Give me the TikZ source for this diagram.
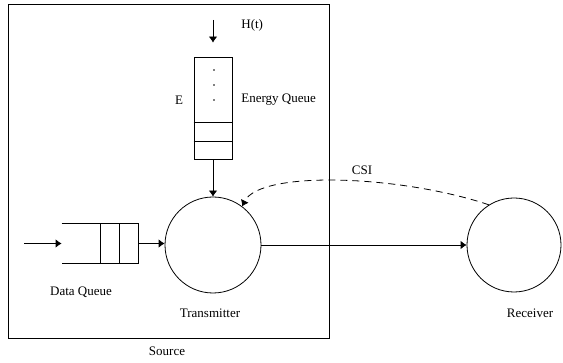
\documentclass[tikz,border=0pt]{standalone}
\usepackage{fontspec}
\setmainfont{Liberation Serif}
\usetikzlibrary{arrows.meta,positioning,shapes.geometric}

\begin{document}
\begin{tikzpicture}[
    x=1pt, y=-1pt,
    >={Latex[length=6pt,width=8.5pt]},
    font=\fontsize{13}{15}\selectfont,
    line width=0.8pt,
    queue/.style={
        draw,
        minimum width=38pt,
        minimum height=102pt,
        inner sep=0pt
    },
    station/.style={
        circle,
        draw,
        inner sep=0pt
    },
    label/.style={
        inner sep=1pt
    },
    edge/.style={->},
    feedback/.style={->, dashed, dash pattern=on 7pt off 5pt}
]
    \useasboundingbox (0,0) rectangle (563,363);

    % source box
    \node[draw, anchor=north west, minimum width=321pt, minimum height=334pt] (source) at (8,4) {};
    \node[label] (sourcelbl) at (167,351) {Source};

    % energy queue
    \node[queue] (equeue) at (213,108) {};
    \draw ([yshift=18pt]equeue.south west) -- ([yshift=18pt]equeue.south east);
    \draw ([yshift=37pt]equeue.south west) -- ([yshift=37pt]equeue.south east);
    \foreach \y in {70,85,100}
        \fill (214,\y) circle (0.8pt);
    \node[label] (elbl) at (179,100) {E};
    \node[label, anchor=west] (eqlbl) at (240,100) {Energy Queue};
    \coordinate (hin) at (213,20);
    \node[label, anchor=west] (hlbl) at (240,25) {H(t)};

    % data queue
    \node[minimum width=76pt, minimum height=39pt, inner sep=0pt] (dqueue) at (100,243.5) {};
    \draw (dqueue.north west) -- (dqueue.north east) -- (dqueue.south east) -- (dqueue.south west);
    \draw (dqueue.north) -- (dqueue.south);
    \draw ([xshift=19pt]dqueue.north) -- ([xshift=19pt]dqueue.south);
    \coordinate (din) at (24,243.5);
    \node[label] (dqlbl) at (81,292) {Data Queue};

    % transmitter and receiver
    \node[station, minimum size=96pt] (tx) at (213,245) {};
    \node[label] (txlbl) at (210,313) {Transmitter};
    \node[station, minimum size=94pt] (rx) at (514,245) {};
    \node[label] (rxlbl) at (530,313) {Receiver};
    \node[label] (csilbl) at (362,170) {CSI};

    \draw[edge] (hin) -- ([yshift=14pt]equeue.north);
    \draw[edge] (equeue.south) -- (tx.north);
    \draw[edge] (din) -- (dqueue.west);
    \draw[edge] (dqueue.east) -- (dqueue.east -| tx.west);
    \draw[edge] (tx.east) -- (rx.west);
    \draw[feedback] (rx.122) .. controls (400,175) and (260,170) .. (tx.53);
\end{tikzpicture}
\end{document}
